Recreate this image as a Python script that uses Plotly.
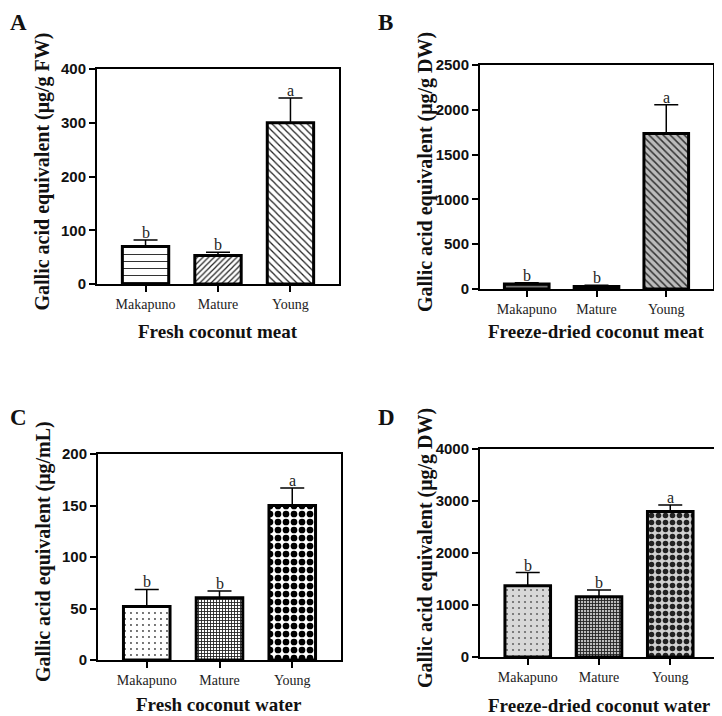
import plotly.graph_objects as go

categories = ["Makapuno", "Mature", "Young"]

fresh_meat = [70, 53, 300]
fresh_meat_err = [12, 6, 46]
freeze_meat = [55, 28, 1735]
freeze_meat_err = [15, 14, 320]
fresh_water = [52, 60.5, 150]
fresh_water_err = [16.5, 6.5, 17]
freeze_water = [1370, 1160, 2800]
freeze_water_err = [255, 130, 125]

letters = ["b", "b", "a"]

panel_letters = ["A", "B", "C", "D"]
y_titles = [
    "Gallic acid equivalent (μg/g FW)",
    "Gallic acid equivalent (μg/g DW)",
    "Gallic acid equivalent (μg/mL)",
    "Gallic acid equivalent (μg/g DW)",
]
x_titles = [
    "Fresh coconut meat",
    "Freeze-dried coconut meat",
    "Fresh coconut water",
    "Freeze-dried coconut water",
]
y_ticks = [
    [0, 100, 200, 300, 400],
    [0, 500, 1000, 1500, 2000, 2500],
    [0, 50, 100, 150, 200],
    [0, 1000, 2000, 3000, 4000],
]

W, H = 722, 716
OFF = 8  # page body margin offset
SERIF = "Liberation Serif, Times New Roman, serif"
SANS = "Liberation Sans, Arial, sans-serif"

# pixel boxes of plot areas in the target image: (left, right, top, bottom)
boxes = [(97, 339, 69, 284), (480, 713, 65, 289), (98, 341, 454, 660), (480, 718, 449, 657)]
xtitle_off = [47, 42, 44, 48]


def px(x):
    return (x - OFF) / W


def py(y):
    return 1 - (y - OFF) / H


patterns = [
    [dict(shape="-", size=7, solidity=0.15, fgcolor="#333", bgcolor="white"),
     dict(shape="/", size=4, solidity=0.3, fgcolor="#222", bgcolor="white"),
     dict(shape="\\", size=5, solidity=0.25, fgcolor="#222", bgcolor="white")],
    [dict(shape="-", size=3, solidity=0.5, fgcolor="#333", bgcolor="#888"),
     dict(shape="", fgcolor="black", bgcolor="black"),
     dict(shape="\\", size=5, solidity=0.3, fgcolor="#333", bgcolor="#bbb")],
    [dict(shape=".", size=6, solidity=0.08, fgcolor="#444", bgcolor="white"),
     dict(shape="+", size=3, solidity=0.5, fgcolor="#222", bgcolor="white"),
     dict(shape=".", size=8, solidity=0.55, fgcolor="black", bgcolor="white")],
    [dict(shape=".", size=6, solidity=0.1, fgcolor="#666", bgcolor="#d8d8d8"),
     dict(shape="+", size=3, solidity=0.5, fgcolor="#222", bgcolor="#bbb"),
     dict(shape=".", size=7, solidity=0.5, fgcolor="#222", bgcolor="#d0d0d0")],
]

datasets = [
    (fresh_meat, fresh_meat_err),
    (freeze_meat, freeze_meat_err),
    (fresh_water, fresh_water_err),
    (freeze_water, freeze_water_err),
]

fig = go.Figure()
annotations = []
layout = dict(
    template="none",
    width=W, height=H, margin=dict(l=0, r=0, t=0, b=0, pad=0, autoexpand=False),
    paper_bgcolor="white", plot_bgcolor="white", showlegend=False,
    barmode="overlay",
)

for i, ((vals, errs), box) in enumerate(zip(datasets, boxes)):
    n = "" if i == 0 else str(i + 1)
    xa, ya = "x" + n, "y" + n
    l, r, t, b = box
    fig.add_trace(go.Bar(
        x=categories, y=vals, xaxis=xa, yaxis=ya, width=0.64,
        marker=dict(color="white", line=dict(color="black", width=3),
                    pattern=dict(
                        shape=[p["shape"] for p in patterns[i]],
                        size=[p.get("size", 8) for p in patterns[i]],
                        solidity=[p.get("solidity", 0.3) for p in patterns[i]],
                        fgcolor=[p["fgcolor"] for p in patterns[i]],
                        bgcolor=[p["bgcolor"] for p in patterns[i]],
                        fillmode="replace",
                    )),
        error_y=dict(type="data", array=errs, arrayminus=[0] * 3, symmetric=False,
                     color="black", thickness=1.5, width=12),
    ))
    axstyle = dict(showline=True, linecolor="black", linewidth=2, mirror=True,
                   ticks="outside", ticklen=6, tickwidth=2, tickcolor="black",
                   showgrid=False, zeroline=False, automargin=False)
    layout["xaxis" + n] = dict(
        axstyle, domain=[px(l), px(r)], anchor=ya, range=[-0.67, 2.67],
        type="category",
        tickfont=dict(family=SERIF, size=14, color="#222"),
    )
    layout["yaxis" + n] = dict(
        axstyle, domain=[py(b), py(t)], anchor=xa, range=[0, y_ticks[i][-1]],
        tickvals=y_ticks[i], ticktext=["<b>%d</b>" % v for v in y_ticks[i]],
        tickfont=dict(family=SANS, size=15, color="#111"),
    )
    for c, v, e, lt in zip(categories, vals, errs, letters):
        annotations.append(dict(
            x=c, y=v + e, xref=xa, yref=ya, text=lt, showarrow=False,
            yanchor="bottom", yshift=-3,
            font=dict(family=SERIF, size=16, color="#222"),
        ))
    # y title
    annotations.append(dict(
        x=px(l - 55), y=py((t + b) / 2 - 5), xref="paper", yref="paper",
        text=y_titles[i], showarrow=False, textangle=-90,
        xanchor="center", yanchor="middle",
        font=dict(family=SERIF, size=20, color="#111", weight="bold"),
    ))
    # x title
    annotations.append(dict(
        x=px((l + r) / 2), y=py(b + xtitle_off[i]), xref="paper", yref="paper",
        text=x_titles[i], showarrow=False, xanchor="center", yanchor="middle",
        font=dict(family=SERIF, size=19, color="#111", weight="bold"),
    ))

# panel letters: (left edge, top of text box) in target pixels
letter_pos = [(8, 8), (376, 8), (8, 403), (376, 403)]
for lt, (lx, ly) in zip(panel_letters, letter_pos):
    annotations.append(dict(
        x=px(lx), y=py(ly), xref="paper", yref="paper", text=lt,
        showarrow=False, xanchor="left", yanchor="top",
        font=dict(family=SERIF, size=23, color="#111", weight="bold"),
    ))

layout["annotations"] = annotations
fig.update_layout(**layout)
fig.write_html("out.html")
